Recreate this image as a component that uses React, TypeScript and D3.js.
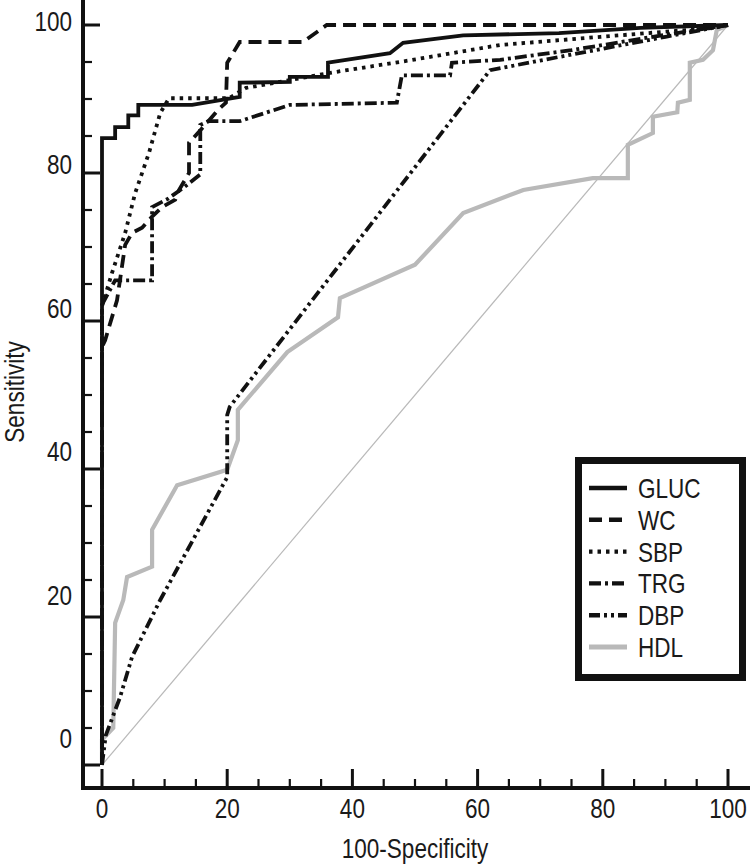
import * as d3 from "d3";
import React, { useEffect, useRef } from "react";

const W = 750;
const H = 864;

// ROC points as [100-specificity, sensitivity]
const GLUC = [[0, 0], [0, 84.7], [2.1, 84.7], [2.1, 86.2], [4.2, 86.2], [4.2, 87.8], [5.8, 87.8], [5.8, 89.2], [14.4, 89.2], [22, 90.3], [22, 92.2], [30, 92.3], [30, 93], [36.1, 93], [36.1, 94.9], [46, 96.2], [48.1, 97.6], [57.7, 98.6], [73, 98.9], [86, 99.6], [100, 100]];
const WC = [[0, 0], [0, 56.5], [0.5, 57.4], [2.4, 62.8], [3.7, 70.3], [4.8, 71.9], [6.4, 72.6], [8, 74.1], [9.6, 75.4], [11.7, 76.4], [12.3, 77.7], [13.9, 80], [13.9, 84.1], [16.5, 86.5], [18.5, 88.5], [19.8, 89.5], [20, 94.9], [22, 97.7], [32.1, 97.7], [35.9, 100], [100, 100]];
const SBP = [[0, 0], [0, 62], [1.6, 66.5], [3.7, 71.9], [5.3, 77.3], [7.5, 82.7], [9.3, 88.1], [10.7, 90.1], [20.3, 90.1], [23, 91.5], [36.9, 93.6], [49, 95.2], [63.6, 97.3], [79.6, 98.4], [97.6, 99.6], [100, 100]];
const TRG = [[0, 0], [0, 62.2], [2.1, 65.5], [8, 65.5], [8, 75.4], [10.5, 76.5], [13, 78], [15.7, 79.8], [15.7, 86.5], [17, 87], [22, 87], [30, 89.2], [47.1, 89.5], [47.9, 93.2], [55.6, 93.2], [55.9, 94.9], [63.6, 95.3], [75, 96.6], [88, 98.4], [100, 100]];
const DBP = [[0, 0], [0.6, 4], [2.9, 9.2], [4.8, 14.6], [9.3, 22.3], [20, 38.9], [20, 47.3], [20.4, 48.4], [46, 76.4], [62, 93.9], [70, 95.2], [80, 96.8], [90, 98.4], [100, 100]];
const HDL = [[0, 0], [0, 3.4], [1.8, 5], [2.1, 19.2], [3.4, 22.3], [4, 25.4], [8, 26.8], [8, 31.8], [12, 37.8], [20, 39.9], [21.7, 43.9], [21.7, 48], [29.6, 55.8], [37.7, 60.5], [38, 63.1], [50, 67.6], [57.7, 74.6], [67.3, 77.7], [78.4, 79.3], [84, 79.3], [84, 83.8], [88, 85.4], [88, 87.6], [91.9, 88.2], [92, 89.5], [93.9, 89.9], [93.9, 94.9], [96, 95.3], [97.6, 96.6], [98.2, 99.3], [100, 100]];
const DIAG = [[0, 0], [100, 100]];

const SERIES_NAMES = ["GLUC", "WC", "SBP", "TRG", "DBP", "HDL"];
const SERIES_DATA = [GLUC, WC, SBP, TRG, DBP, HDL];
const MAJOR_TICKS = [0, 20, 40, 60, 80, 100];
const MINOR_TICKS = d3.range(0, 101, 5);

const INK = "#111";
const GREY = "#b9b9b9";
const STYLES = {
  GLUC: { color: INK, width: 3.8, dash: null },
  WC: { color: INK, width: 3.8, dash: "13 7" },
  SBP: { color: INK, width: 3.8, dash: "3.5 5" },
  TRG: { color: INK, width: 3.8, dash: "12 4 3 4" },
  DBP: { color: INK, width: 3.8, dash: "11 4 3 4 3 4" },
  HDL: { color: GREY, width: 4.2, dash: null },
};

const FONT = "'Liberation Sans', Arial, sans-serif";
const FS = 27.5;
const SX = 0.82; // condensed look of the original typeface

export default function App() {
  const ref = useRef(null);

  useEffect(() => {
    const svg = d3.select(ref.current);
    svg.selectAll("*").remove();

    const x = d3.scaleLinear().domain([0, 100]).range([102, 728]);
    const y = d3.scaleLinear().domain([0, 100]).range([765, 25]);
    // tick labels sit a little off the ticks in the scan
    const yLab = d3.scaleLinear().domain([0, 100]).range([748, 31]);

    const line = d3
      .line()
      .x((d) => x(d[0]))
      .y((d) => y(d[1]));

    const text = (g, tx, ty, str, anchor, size, rot = 0) =>
      g
        .append("text")
        .attr("transform", `translate(${tx},${ty}) rotate(${rot}) scale(${SX},1)`)
        .attr("text-anchor", anchor)
        .attr("font-family", FONT)
        .attr("font-size", size)
        .attr("fill", "#1a1a1a")
        .text(str);

    svg.append("rect").attr("width", W).attr("height", H).attr("fill", "#fff");

    // reference diagonal
    svg
      .append("path")
      .attr("d", line(DIAG))
      .attr("fill", "none")
      .attr("stroke", GREY)
      .attr("stroke-width", 1.2);

    // curves, HDL drawn first so black ones go on top
    const order = [5, 4, 3, 2, 1, 0];
    order.forEach((i) => {
      const s = STYLES[SERIES_NAMES[i]];
      svg
        .append("path")
        .attr("d", line(SERIES_DATA[i]))
        .attr("fill", "none")
        .attr("stroke", s.color)
        .attr("stroke-width", s.width)
        .attr("stroke-dasharray", s.dash)
        .attr("stroke-linejoin", "miter");
    });

    // axes
    const ax = svg.append("g").attr("stroke", INK);
    ax.append("line").attr("x1", 83).attr("x2", 83).attr("y1", 0).attr("y2", 790).attr("stroke-width", 4);
    ax.append("line").attr("x1", 81).attr("x2", W).attr("y1", 788).attr("y2", 788).attr("stroke-width", 4);

    MINOR_TICKS.forEach((t) => {
      const major = t % 20 === 0;
      ax.append("line")
        .attr("x1", 83).attr("x2", major ? 100 : 92)
        .attr("y1", y(t)).attr("y2", y(t))
        .attr("stroke-width", major ? 3 : 2.2);
      ax.append("line")
        .attr("x1", x(t)).attr("x2", x(t))
        .attr("y1", 788).attr("y2", major ? 769 : 779)
        .attr("stroke-width", major ? 3 : 2.2);
    });

    MAJOR_TICKS.forEach((t) => {
      text(svg, 72, yLab(t), String(t), "end", FS);
      text(svg, x(t), 818, String(t), "middle", FS);
    });

    text(svg, 24, 392, "Sensitivity", "middle", FS, -90);
    text(svg, 415, 858, "100-Specificity", "middle", FS);

    // legend
    const lg = svg.append("g");
    lg.append("rect")
      .attr("x", 578.5).attr("y", 460.5).attr("width", 164).attr("height", 217)
      .attr("fill", "#fff").attr("stroke", INK).attr("stroke-width", 7);
    SERIES_NAMES.forEach((name, i) => {
      const s = STYLES[name];
      const ly = 488 + i * 31.8;
      lg.append("line")
        .attr("x1", 589).attr("x2", 627).attr("y1", ly).attr("y2", ly)
        .attr("stroke", s.color).attr("stroke-width", s.width + 0.6)
        .attr("stroke-dasharray", s.dash);
      text(lg, 638, ly + 10, name, "start", FS);
    });
  }, []);

  return (
    <svg
      ref={ref}
      width={W}
      height={H}
      style={{ position: "absolute", left: 0, top: 0, display: "block" }}
    />
  );
}
